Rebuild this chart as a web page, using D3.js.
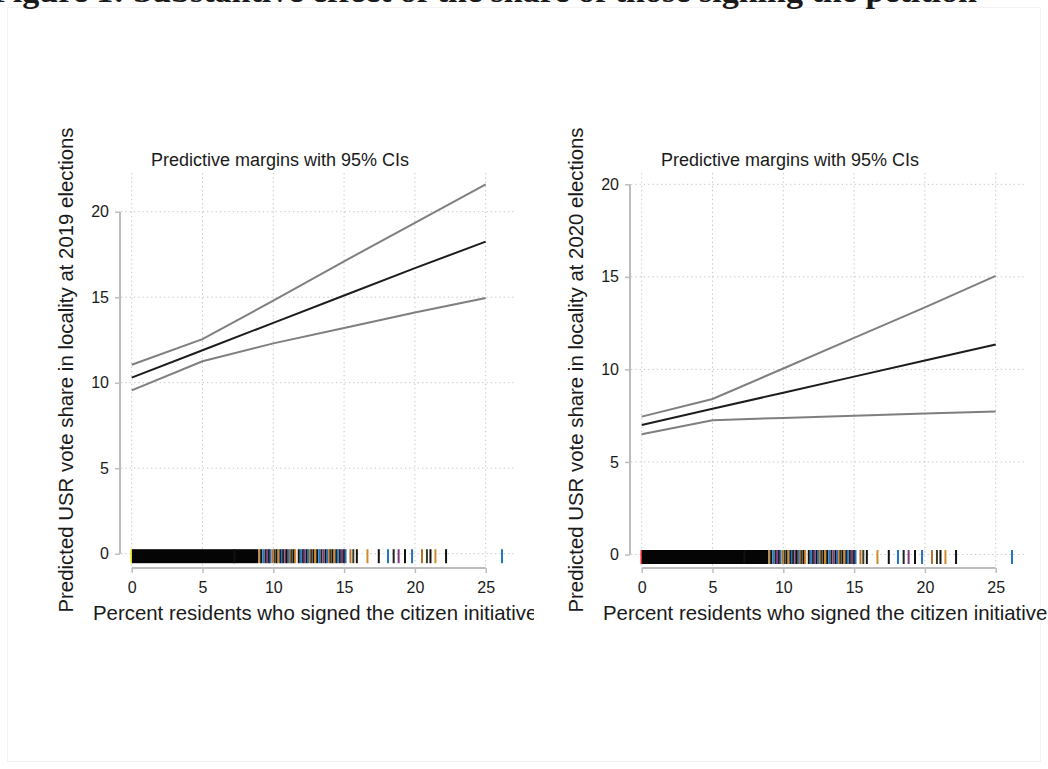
<!DOCTYPE html>
<html>
  <head>
    <style>
      body { margin: 0; background: #fff; }
      text { font-family: "Liberation Sans", Arial, sans-serif; fill: #1a1a1a; }
      .grid line { stroke: #c4c4c4; stroke-dasharray: 1.3, 3; }
      .axis-line { stroke: #bdbdbd; stroke-width: 2; }
      .fig-title { font-family: "Liberation Serif", "Times New Roman", serif; font-weight: bold; }
    </style>
  </head>
  <body>
    <div id="chart"></div>
    <script src="https://d3js.org/d3.v7.min.js"></script>
    <script>
      // margins evaluated at these signature shares
      const atValues = [0, 5, 10, 15, 20, 25];
      const xTicks = [0, 5, 10, 15, 20, 25];
      const yTicks = [0, 5, 10, 15, 20];

      const fit2019 = [10.3, 11.9, 13.5, 15.1, 16.7, 18.25];
      const upper2019 = [11.05, 12.55, 14.8, 17.1, 19.35, 21.6];
      const lower2019 = [9.55, 11.25, 12.3, 13.2, 14.1, 14.95];

      const fit2020 = [7.0, 7.87, 8.74, 9.61, 10.48, 11.35];
      const upper2020 = [7.45, 8.4, 10.05, 11.7, 13.35, 15.05];
      const lower2020 = [6.5, 7.25, 7.38, 7.5, 7.62, 7.72];

      // rug: solid stretch of observations, then single ticks
      const rugBlock = [0, 8.95];
      const rugTicks = [
        7.25, 9.05, 9.15, 9.3, 9.45, 9.55, 9.7, 9.8, 9.95, 10.1, 10.25, 10.35,
        10.5, 10.6, 10.7, 10.85, 10.95, 11.1, 11.2, 11.3, 11.45, 11.55, 11.8,
        11.95, 12.1, 12.2, 12.35, 12.45, 12.6, 12.7, 12.85, 12.95, 13.1, 13.25,
        13.4, 13.55, 13.7, 13.8, 13.95, 14.05, 14.2, 14.3, 14.45, 14.55, 14.7,
        14.85, 15.0, 15.1, 15.45, 15.65, 15.9, 16.65, 17.45, 18.1, 18.5, 18.85,
        19.3, 19.8, 20.5, 20.85, 21.1, 21.45, 22.2, 26.15,
      ];

      const subTitle = "Predictive margins with 95% CIs";
      const xTitle = "Percent residents who signed the citizen initiative";

      const panels = [
        {
          ox: 0,
          yTitle: "Predicted USR vote share in locality at 2019 elections",
          fit: fit2019, upper: upper2019, lower: lower2019,
          yRange: [553.7, 211.7],
          zeroColor: "#e8e000",
        },
        {
          ox: 510,
          yTitle: "Predicted USR vote share in locality at 2020 elections",
          fit: fit2020, upper: upper2020, lower: lower2020,
          yRange: [554.5, 184.3],
          zeroColor: "#e02020",
        },
      ];

      const W = 1048, H = 769;
      const svg = d3.select("#chart").append("svg")
        .attr("width", W).attr("height", H);

      // faint figure frame
      svg.append("rect")
        .attr("x", 7.5).attr("y", 7.5).attr("width", W - 15).attr("height", H - 15)
        .attr("fill", "none").attr("stroke", "#f3f3f3");

      // document caption, cut off at the top edge as in the source page
      svg.append("text")
        .attr("class", "fig-title")
        .attr("x", -8).attr("y", 2)
        .attr("font-size", 31)
        .attr("textLength", 985)
        .attr("lengthAdjust", "spacingAndGlyphs")
        .text("Figure 1: Substantive effect of the share of those signing the petition");

      svg.append("defs").append("clipPath").attr("id", "leftclip")
        .append("rect").attr("x", 0).attr("y", 0).attr("width", 534).attr("height", H);

      const rugColor = d3.scaleOrdinal()
        .range(["#111", "#d08a2c", "#111", "#1f78c1", "#222", "#7b3b7b", "#111", "#2e6fb0", "#b5732a", "#3a3a22"]);

      panels.forEach((p, pi) => {
        const g = svg.append("g")
          .attr("transform", "translate(" + p.ox + ",0)")
          .attr("clip-path", pi === 0 ? "url(#leftclip)" : null);

        const plot = { left: 121, right: 514, top: 173, bottom: 567 };
        const x = d3.scaleLinear().domain([0, 25]).range([131.7, 485.7]);
        const y = d3.scaleLinear().domain([0, 20]).range(p.yRange);

        // grid
        const grid = g.append("g").attr("class", "grid");
        grid.selectAll(".gx").data(xTicks).enter().append("line")
          .attr("x1", (d) => x(d)).attr("x2", (d) => x(d))
          .attr("y1", plot.top).attr("y2", plot.bottom);
        grid.selectAll(".gy").data(yTicks).enter().append("line")
          .attr("x1", plot.left).attr("x2", plot.right)
          .attr("y1", (d) => y(d)).attr("y2", (d) => y(d));

        // y axis (Stata style: line only over tick range)
        const yAxis = d3.axisLeft(y).tickValues(yTicks).tickSize(5).tickPadding(6);
        const ya = g.append("g").attr("transform", "translate(120,0)").call(yAxis);
        ya.select(".domain").remove();
        ya.selectAll(".tick line").attr("stroke", "#bdbdbd").attr("stroke-width", 1.5);
        ya.selectAll(".tick text").attr("font-size", 16).attr("fill", "#1a1a1a")
          .attr("font-family", '"Liberation Sans", Arial, sans-serif');
        ya.append("line").attr("class", "axis-line")
          .attr("x1", 0).attr("x2", 0).attr("y1", y(0)).attr("y2", y(20));

        // x axis
        const xAxis = d3.axisBottom(x).tickValues(xTicks).tickSize(5).tickPadding(9);
        const xa = g.append("g").attr("transform", "translate(0,568)").call(xAxis);
        xa.select(".domain").remove();
        xa.selectAll(".tick line").attr("stroke", "#bdbdbd").attr("stroke-width", 1.5);
        xa.selectAll(".tick text").attr("font-size", 16).attr("fill", "#1a1a1a")
          .attr("font-family", '"Liberation Sans", Arial, sans-serif');
        xa.append("line").attr("class", "axis-line")
          .attr("x1", x(0)).attr("x2", x(25)).attr("y1", 0).attr("y2", 0);

        // rug along y = 0
        const r0 = y(0) - 4.5, r1 = y(0) + 9.5;
        g.append("rect")
          .attr("x", x(rugBlock[0])).attr("width", x(rugBlock[1]) - x(rugBlock[0]))
          .attr("y", r0).attr("height", r1 - r0)
          .attr("fill", "#050505");
        g.selectAll(".rug").data(rugTicks).enter().append("line")
          .attr("x1", (d) => x(d)).attr("x2", (d) => x(d))
          .attr("y1", r0).attr("y2", r1)
          .attr("stroke", (d, i) => rugColor(i))
          .attr("stroke-width", 2);
        g.append("line")
          .attr("x1", x(0) - 0.5).attr("x2", x(0) - 0.5)
          .attr("y1", r0).attr("y2", r1)
          .attr("stroke", p.zeroColor).attr("stroke-width", 1.5);

        // margins and CIs
        const line = d3.line().x((d, i) => x(atValues[i])).y((d) => y(d));
        [["upper", "#7f7f7f"], ["lower", "#7f7f7f"], ["fit", "#1c1c1c"]].forEach(([k, c]) => {
          g.append("path").datum(p[k])
            .attr("d", line).attr("fill", "none")
            .attr("stroke", c).attr("stroke-width", 2);
        });

        // titles
        g.append("text")
          .attr("x", 280).attr("y", 166)
          .attr("text-anchor", "middle").attr("font-size", 18)
          .text(subTitle);
        g.append("text")
          .attr("x", 93).attr("y", 620)
          .attr("font-size", 20.4)
          .text(xTitle);
        g.append("text")
          .attr("transform", "translate(73,370) rotate(-90)")
          .attr("text-anchor", "middle").attr("font-size", 20.4)
          .text(p.yTitle);
      });
    </script>
  </body>
</html>
